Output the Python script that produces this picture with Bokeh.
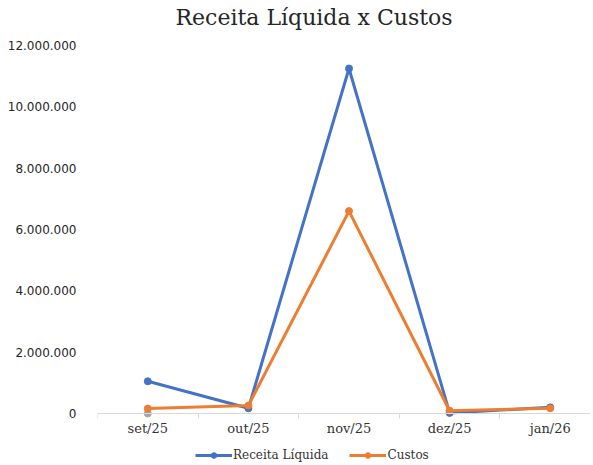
from bokeh.plotting import figure
from bokeh.models import FixedTicker, Range1d, Legend, LegendItem, Label
from bokeh.embed import file_html
from bokeh.resources import INLINE

# ---- data ----
title_text = "Receita Líquida x Custos"
categories = ["set/25", "out/25", "nov/25", "dez/25", "jan/26"]
receita = [1050000, 170000, 11250000, 20000, 200000]
custos = [160000, 260000, 6600000, 90000, 170000]
extra_categories = ["set/25"]
extra_values = [0]
y_ticks = [0, 2000000, 4000000, 6000000, 8000000, 10000000, 12000000]

BLUE = "#4472C4"
ORANGE = "#ED7D31"
GRAY = "#A5A5A5"

# ---- layout (pixels) ----
W, H = 590, 462
LEFT = 97
TOP_TICK_Y = 45        # pixel row of the top tick value
AXIS_Y = 413           # pixel row of the value 0
BAND = 100.6           # width of one category band
px_per_val = (AXIS_Y - TOP_TICK_Y) / y_ticks[-1]
y_max = AXIS_Y / px_per_val
y_min = -(H - AXIS_Y) / px_per_val

xpos = [i + 0.5 for i in range(len(categories))]
extra_x = [categories.index(c) + 0.5 for c in extra_categories]

p = figure(width=W, height=H, output_backend="svg", toolbar_location=None,
           title_location=None,
           x_range=Range1d(0, (W - LEFT) / BAND), y_range=Range1d(y_min, y_max),
           min_border_left=LEFT, min_border_right=0, min_border_top=0, min_border_bottom=0)
p.outline_line_color = None
p.xgrid.grid_line_color = None
p.ygrid.grid_line_color = None

# title (screen units, relative to the frame's bottom-left corner)
p.add_layout(Label(x=78, y=H - 17, x_units="screen", y_units="screen",
                   text=title_text, text_font="DejaVu Serif", text_font_size="22px",
                   text_color="#262626", text_baseline="alphabetic", text_align="left"))

# y axis
p.yaxis.ticker = FixedTicker(ticks=y_ticks)
p.yaxis.major_label_overrides = {t: f"{t:,}".replace(",", ".") for t in y_ticks}
p.yaxis.axis_line_color = None
p.yaxis.major_tick_line_color = None
p.yaxis.minor_tick_line_color = None
p.yaxis.major_label_text_font = "DejaVu Sans"
p.yaxis.major_label_text_font_size = "12px"
p.yaxis.major_label_text_color = "#262626"
p.yaxis.major_label_standoff = 15

# x axis, drawn at value 0
xa = p.xaxis[0]
xa.fixed_location = 0
xa.ticker = FixedTicker(ticks=xpos, minor_ticks=list(range(len(categories) + 1)))
xa.major_label_overrides = {x: c for x, c in zip(xpos, categories)}
xa.axis_line_color = "#D9D9D9"
xa.major_tick_line_color = None
xa.minor_tick_line_color = "#D9D9D9"
xa.minor_tick_in = 0
xa.minor_tick_out = 5
xa.major_label_text_font = "DejaVu Serif"
xa.major_label_text_font_size = "13px"
xa.major_label_text_color = "#333333"
xa.major_label_standoff = 1

p.scatter(extra_x, extra_values, size=7, color=GRAY)

l1 = p.line(xpos, receita, line_color=BLUE, line_width=3)
s1 = p.scatter(xpos, receita, size=7, color=BLUE)
l2 = p.line(xpos, custos, line_color=ORANGE, line_width=3)
s2 = p.scatter(xpos, custos, size=7, color=ORANGE)

legend = Legend(items=[LegendItem(label="Receita Líquida", renderers=[l1, s1]),
                       LegendItem(label="Custos", renderers=[l2, s2])],
                orientation="horizontal", location=(98, 0),
                glyph_width=37, glyph_height=14, label_height=14,
                label_standoff=1, spacing=21, padding=0, margin=0,
                border_line_color=None, background_fill_alpha=0,
                label_text_font="DejaVu Serif", label_text_font_size="12px",
                label_text_color="#333333")
p.add_layout(legend, "center")

open("out.html", "w").write(file_html(p, INLINE))
